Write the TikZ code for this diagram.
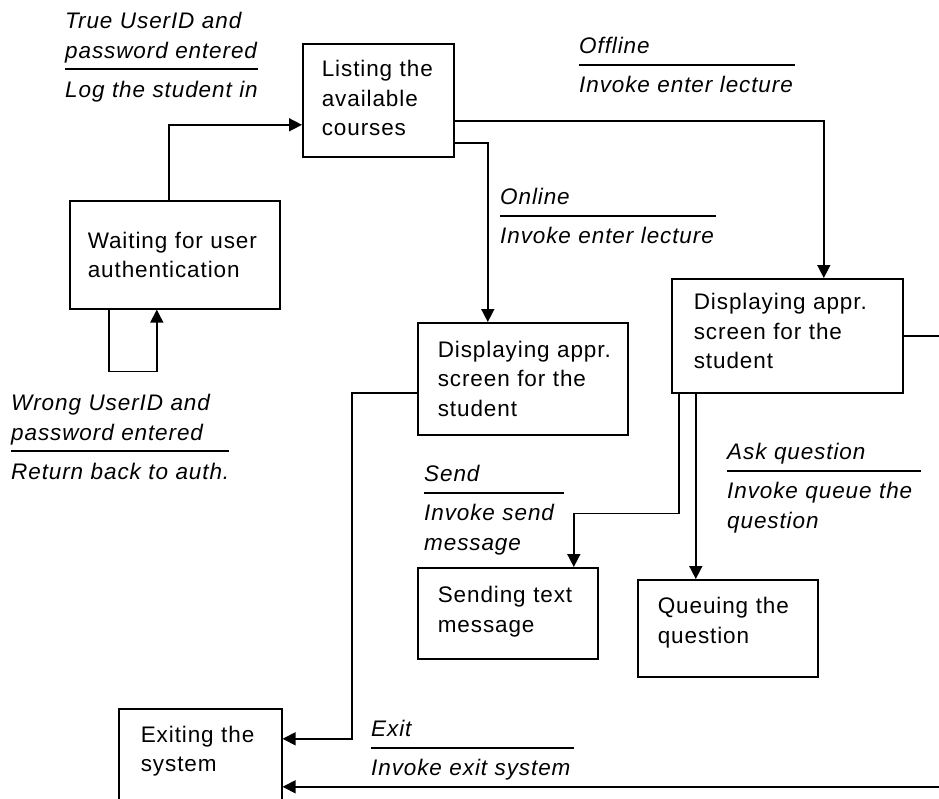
\documentclass[tikz,border=0pt]{standalone}
\usepackage{fontspec}
\usetikzlibrary{arrows.meta}

\newfontfamily\boxfont[LetterSpace=4]{Liberation Sans}
\newcommand{\guard}[3]{#1\\[-17.5pt]\rule{#2}{1.6pt}\\[-2.5pt]#3}

\begin{document}
\begin{tikzpicture}[
    x=1pt, y=-1pt,
    box/.style={rectangle, draw, line width=1.6pt, anchor=north west, align=left, inner ysep=0pt, font=\boxfont\fontsize{22.5}{29.5}\selectfont},
    lbl/.style={anchor=north west, align=left, inner sep=0pt, text width=240pt, font=\boxfont\itshape\fontsize{22.5}{29.5}\selectfont},
    arrow/.style={-{Triangle[length=13pt,width=13pt]}, line width=1.6pt}
]
\useasboundingbox (0,0) rectangle (939,798);
\clip (0,0) rectangle (939,798);

% States
\node[box, inner xsep=18pt, text width=174pt, minimum height=108pt] (wait) at (69,200) {Waiting for user\\authentication};
\node[box, inner xsep=19pt, text width=113pt, minimum height=113pt, text depth=63pt] (list) at (302,43) {Listing the\\available\\courses};
\node[box, inner xsep=20pt, text width=170pt, minimum height=112pt] (disp1) at (417,322) {Displaying~appr.\\screen for the\\student};
\node[box, inner xsep=22pt, text width=187pt, minimum height=114pt, text depth=68pt] (disp2) at (671,278) {Displaying appr.\\screen for the\\student};
\node[box, inner xsep=20pt, text width=140pt, minimum height=91pt, text depth=37pt] (send) at (417,567) {Sending text\\message};
\node[box, inner xsep=20pt, text width=140pt, minimum height=97pt, text depth=45pt] (queue) at (637,579) {Queuing the\\question};
\node[box, inner xsep=22pt, text width=119pt, minimum height=110pt, text depth=59.5pt] (exit) at (118,708) {Exiting the\\system};

% Transition labels
\node[lbl] (ltrue) at (65,12) {\guard{True UserID and\\password entered}{193pt}{Log the student in}};
\node[lbl] (lwrong) at (11,394) {\guard{Wrong UserID and\\password entered}{218pt}{Return back to auth.}};
\node[lbl] (loffline) at (579,37) {\guard{Offline}{216pt}{Invoke enter lecture}};
\node[lbl] (lonline) at (500,188) {\guard{Online}{216pt}{Invoke enter lecture}};
\node[lbl] (lsend) at (424,465) {\guard{Send}{140pt}{Invoke send\\message}};
\node[lbl] (lask) at (727,443) {\guard{Ask question}{194pt}{Invoke queue the\\question}};
\node[lbl] (lexit) at (371,720) {\guard{Exit}{203pt}{Invoke exit system}};

% Arrows
\draw[arrow] ([xshift=-6pt]wait.north) |- ([yshift=-24.5pt]list.west);
\draw[arrow] ([xshift=-66pt]wait.south) -- ++(0,62) -| ([xshift=-18pt]wait.south);
\draw[arrow] ([yshift=-42.5pt]list.east) -| ([xshift=-35pt]disp1.north);
\draw[arrow] ([yshift=-20.5pt]list.east) -| ([xshift=36.5pt]disp2.north);
\draw[arrow] ([yshift=-14pt]disp1.west) -- ++(-65,0) |- ([yshift=25pt]exit.east);
\draw[arrow] (disp2.east) -- ++(60,0) |- ([yshift=-23pt]exit.east);
\draw[arrow] ([xshift=-108.5pt]disp2.south) -- ++(0,120) -| ([xshift=66pt]send.north);
\draw[arrow] ([xshift=-91.5pt]disp2.south) -- ([xshift=-32pt]queue.north);

\end{tikzpicture}
\end{document}
